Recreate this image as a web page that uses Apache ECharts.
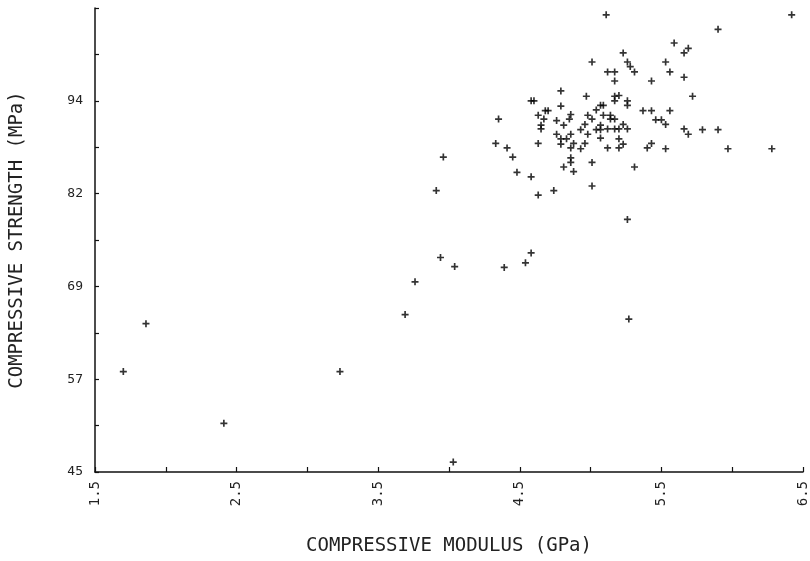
<!DOCTYPE html>
<html>
<head>
<meta charset="utf-8">
<script src="https://cdn.jsdelivr.net/npm/echarts@6/dist/echarts.min.js"></script>
<style>
html,body{margin:0;padding:0;background:#fff;}
#chart{width:810px;height:561px;}
</style>
</head>
<body>
<div id="chart"></div>
<script>
// Compressive modulus (GPa)
const modulus = [
  1.70, 1.86, 2.41, 3.23, 3.69, 3.76, 3.91, 3.96, 3.94, 4.04, 4.03, 4.39, 4.54, 4.58, 5.27, 5.26,
  5.11, 5.01, 5.12, 5.17, 5.17, 4.79, 4.97, 5.17, 5.20, 5.17, 4.58, 4.60, 4.79, 5.07, 5.09, 5.04,
  4.68, 4.70, 4.63, 4.86, 4.98, 5.09, 5.14, 4.35, 4.67, 4.76, 4.85, 5.01, 5.14, 5.17, 4.65, 4.65,
  4.81, 4.96, 4.93, 5.04, 5.07, 5.07, 5.12, 5.17, 5.20, 4.76, 4.86, 4.98, 4.79, 4.83, 5.07, 5.20,
  4.33, 4.63, 4.79, 4.88, 4.96, 4.41, 4.86, 4.93, 5.12, 5.20, 4.45, 4.86, 4.86, 5.01, 4.48, 4.58,
  4.81, 4.88, 4.63, 4.74, 5.01, 6.42, 5.90, 5.59, 5.69, 5.66, 5.23, 5.26, 5.28, 5.31, 5.53, 5.56,
  5.66, 5.43, 5.72, 5.26, 5.26, 5.37, 5.43, 5.56, 5.46, 5.50, 5.53, 5.23, 5.26, 5.66, 5.69, 5.79,
  5.90, 5.23, 5.40, 5.43, 5.53, 5.97, 6.28, 5.31
];
// Compressive strength (MPa)
const strength = [
  58.2, 64.5, 51.4, 58.2, 65.7, 70.0, 82.0, 86.4, 73.2, 72.0, 46.3, 71.9, 72.5, 73.8, 65.1, 78.2,
  105.1, 98.9, 97.6, 97.6, 96.4, 95.1, 94.4, 94.4, 94.5, 93.8, 93.8, 93.8, 93.1, 93.2, 93.2, 92.6,
  92.5, 92.5, 91.9, 92.0, 91.9, 91.9, 91.9, 91.4, 91.4, 91.2, 91.4, 91.4, 91.4, 91.4, 90.6, 90.1,
  90.6, 90.7, 90.0, 90.0, 90.0, 90.6, 90.1, 90.1, 90.1, 89.4, 89.4, 89.4, 88.8, 88.8, 88.9, 88.8,
  88.2, 88.2, 88.1, 88.2, 88.2, 87.6, 87.6, 87.5, 87.6, 87.6, 86.4, 86.3, 85.7, 85.7, 84.4, 83.8,
  85.1, 84.5, 81.4, 82.0, 82.6, 105.1, 103.2, 101.4, 100.7, 100.1, 100.1, 98.9, 98.3, 97.6, 98.9, 97.6,
  96.9, 96.4, 94.4, 93.8, 93.2, 92.5, 92.5, 92.5, 91.3, 91.3, 90.7, 90.7, 90.1, 90.1, 89.4, 90.0,
  90.0, 88.1, 87.6, 88.2, 87.5, 87.5, 87.5, 85.1
];
// Axis ticks
const xTickValues = [1.5, 2.0, 2.5, 3.0, 3.5, 4.0, 4.5, 5.0, 5.5, 6.0, 6.5];
const xLabelValues = [1.5, 2.5, 3.5, 4.5, 5.5, 6.5];
const xLabelTexts = ['1.5', '2.5', '3.5', '4.5', '5.5', '6.5'];
const yTickValues = [45, 51.1, 57.2, 63.3, 69.4, 75.5, 81.6, 87.7, 93.8, 99.9, 106];
const yLabelValues = [45, 57.2, 69.4, 81.6, 93.8];
const yLabelTexts = ['45', '57', '69', '82', '94'];

const points = modulus.map((m, i) => [m, strength[i]]);
const FONT = 'DejaVu Sans Mono';
const plus = 'path://M3.8,0H6.2V3.8H10V6.2H6.2V10H3.8V6.2H0V3.8H3.8Z';

function labelFor(values, texts) {
  return v => {
    for (let i = 0; i < values.length; i++) {
      if (Math.abs(values[i] - v) < 1e-6) return texts[i];
    }
    return '';
  };
}

const chart = echarts.init(document.getElementById('chart'), null, {renderer: 'canvas'});
chart.setOption({
  animation: false,
  backgroundColor: '#ffffff',
  grid: {left: 93, right: 7, top: 8, bottom: 86, containLabel: false},
  xAxis: {
    type: 'value',
    min: 1.5, max: 6.5, interval: 0.5,
    name: 'COMPRESSIVE MODULUS (GPa)',
    nameLocation: 'middle',
    nameGap: 65,
    nameTextStyle: {fontFamily: FONT, fontSize: 19, color: '#222'},
    axisLine: {show: true, onZero: false, lineStyle: {color: '#111', width: 1.5}},
    axisTick: {show: true, inside: true, length: 5, customValues: xTickValues, lineStyle: {color: '#111', width: 1.2}},
    axisLabel: {
      customValues: xLabelValues,
      formatter: labelFor(xLabelValues, xLabelTexts),
      rotate: 90, margin: 9,
      fontFamily: FONT, fontSize: 14, color: '#222'
    },
    splitLine: {show: false}
  },
  yAxis: {
    type: 'value',
    min: 45, max: 106,
    name: 'COMPRESSIVE STRENGTH (MPa)',
    nameLocation: 'middle',
    nameGap: 68,
    nameRotate: 90,
    nameTextStyle: {fontFamily: FONT, fontSize: 19, color: '#222'},
    axisLine: {show: true, onZero: false, lineStyle: {color: '#111', width: 1.5}},
    axisTick: {show: true, inside: true, length: 4, customValues: yTickValues, lineStyle: {color: '#111', width: 1.2}},
    axisLabel: {
      customValues: yLabelValues,
      formatter: labelFor(yLabelValues, yLabelTexts),
      margin: 12,
      fontFamily: FONT, fontSize: 13, color: '#222'
    },
    splitLine: {show: false}
  },
  series: [{
    type: 'scatter',
    data: points,
    symbol: plus,
    symbolSize: 7,
    itemStyle: {color: '#000'},
    emphasis: {disabled: true}
  }]
});
</script>
</body>
</html>
